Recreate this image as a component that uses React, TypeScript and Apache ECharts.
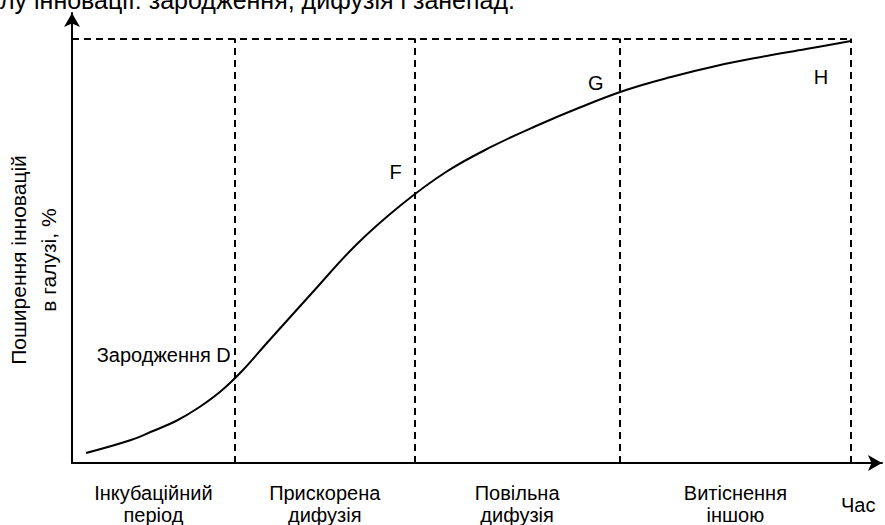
import React, { useEffect, useRef } from "react";
import * as echarts from "echarts";

// Curve of innovation diffusion (time, share %)
const curveX = [1.73, 7.28, 10.0, 12.84, 15.56, 18.4, 21.11, 23.95, 26.67, 29.51, 35.06, 40.62, 46.17, 51.73, 57.28, 62.84, 68.4, 73.95, 79.51, 85.06, 90.62, 96.17];
const curveY = [2.36, 5.42, 7.54, 9.89, 12.95, 16.96, 21.91, 28.03, 33.81, 39.81, 51.35, 60.77, 68.55, 74.44, 79.38, 83.86, 87.86, 90.93, 93.52, 95.64, 97.52, 99.41];
const stageBounds = [20.1, 42.3, 67.6, 96.2];
const stageLabels = ["Інкубаційний\nперіод", "Прискорена\nдифузія", "Повільна\nдифузія", "Витіснення\nіншою"];
const pointLabels = ["Зародження D", "F", "G", "H"];
const pointLabelY = [25.4, 68.6, 89.4, 90.9];
const topLevel = 100;
const xName = "Час";
const yName = "Поширення інновацій\nв галузі, %";
const title = "Етапи життєвого циклу інновації: зародження, дифузія і занепад.";

const FONT = "'Liberation Sans', Arial, sans-serif";

export default function App() {
  const ref = useRef<HTMLDivElement>(null);
  useEffect(() => {
    document.body.style.margin = "0";
    if (!ref.current) return;
    const chart = echarts.init(ref.current, undefined, { renderer: "svg" });
    const dash = { color: "#000", width: 2, type: [7, 5] as any };
    const markData: any[] = stageBounds.map((b) => [
      { coord: [b, 0] },
      { coord: [b, topLevel] },
    ]);
    markData.push([{ coord: [0, topLevel] }, { coord: [stageBounds[stageBounds.length - 1], topLevel] }]);

    chart.setOption({
      animation: false,
      grid: { left: 72, right: 3, top: 13, bottom: 62 },
      xAxis: {
        type: "value",
        min: 0,
        max: 100,
        axisLine: {
          show: true,
          symbol: ["none", "arrow"],
          symbolSize: [12, 14],
          lineStyle: { color: "#000", width: 2 },
        },
        axisTick: { show: false },
        axisLabel: { show: false },
        splitLine: { show: false },
      },
      yAxis: {
        type: "value",
        min: 0,
        max: 106,
        axisLine: {
          show: true,
          symbol: ["none", "arrow"],
          symbolSize: [12, 14],
          lineStyle: { color: "#000", width: 2 },
        },
        axisTick: { show: false },
        axisLabel: { show: false },
        splitLine: { show: false },
      },
      series: [
        {
          type: "line",
          data: curveX.map((x, i) => [x, curveY[i]]),
          smooth: 0.4,
          showSymbol: false,
          lineStyle: { color: "#000", width: 2 },
          markLine: {
            silent: true,
            symbol: "none",
            label: { show: false },
            lineStyle: dash,
            data: markData,
          },
        },
      ],
    });

    const px = (x: number, y: number) => chart.convertToPixel({ gridIndex: 0 }, [x, y]) as number[];
    const axisY = px(0, 0)[1];
    const graphics: any[] = [];
    const offsets = [-4, -13, -16, -23];
    pointLabels.forEach((t, i) => {
      const p = px(stageBounds[i], pointLabelY[i]);
      graphics.push({
        type: "text",
        x: p[0] + offsets[i],
        y: p[1],
        style: { text: t, font: `20px ${FONT}`, fill: "#000", align: "right", verticalAlign: "middle" },
      });
    });
    const edges = [0, ...stageBounds];
    stageLabels.forEach((t, i) => {
      const a = px(edges[i], 0)[0];
      const b = px(edges[i + 1], 0)[0];
      graphics.push({
        type: "text",
        x: (a + b) / 2,
        y: axisY + 19,
        style: { text: t, font: `20px ${FONT}`, lineHeight: 22, fill: "#000", align: "center", verticalAlign: "top" },
      });
    });
    const endX = px(stageBounds[stageBounds.length - 1], 0)[0];
    graphics.push({
      type: "text",
      x: endX + 7,
      y: axisY + 42,
      style: { text: xName, font: `20px ${FONT}`, fill: "#000", align: "center", verticalAlign: "middle" },
    });
    graphics.push({
      type: "text",
      x: 33,
      y: 260,
      rotation: Math.PI / 2,
      style: { text: yName, font: `21px ${FONT}`, lineHeight: 30, fill: "#000", align: "center", verticalAlign: "middle" },
    });
    graphics.push({
      type: "text",
      x: 515,
      y: 0,
      style: { text: title, font: `25px ${FONT}`, fill: "#000", align: "right", verticalAlign: "middle" },
    });
    chart.setOption({ graphic: graphics });

    return () => chart.dispose();
  }, []);
  return <div ref={ref} style={{ width: 885, height: 525 }} />;
}
